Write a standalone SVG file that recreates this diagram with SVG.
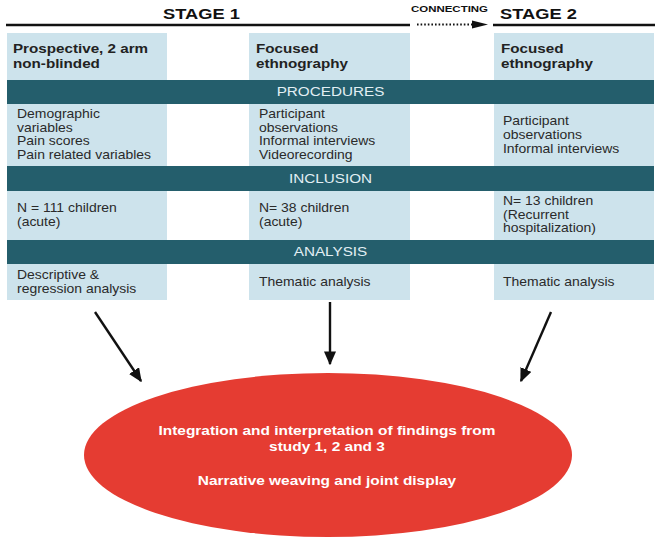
<svg xmlns="http://www.w3.org/2000/svg" width="662" height="541" viewBox="0 0 662 541">
<style>
text { font-family: "Liberation Sans", Arial, Helvetica, sans-serif; transform-box: fill-box; }
.st { font-size: 15.5px; font-weight: bold; fill: #111; transform-origin: 0 50%; transform: scaleX(1.18); }
.cn { font-size: 9.8px; font-weight: bold; fill: #111; transform-origin: 0 50%; transform: scaleX(1.17); }
.hd { font-size: 13px; font-weight: bold; fill: #222; transform-origin: 0 50%; transform: scaleX(1.17); }
.bd { font-size: 12.4px; fill: #2a2a2a; transform-origin: 0 50%; transform: scaleX(1.125); }
.bar-t { font-size: 13.4px; fill: #e2eff4; text-anchor: middle; transform-origin: 50% 50%; transform: scaleX(1.14); }
.el-t { font-size: 13.2px; font-weight: bold; fill: #ffffff; text-anchor: middle; transform-origin: 50% 50%; transform: scaleX(1.17); }
.cell { fill: #cde3ec; }
.bar { fill: #245e6c; }
.rule { stroke: #111; stroke-width: 2.5; }
.conn { stroke: #111; stroke-width: 2.4; fill: none; }
</style>
<defs>
<marker id="ah" viewBox="0 0 10 10" refX="9" refY="5" markerWidth="5.8" markerHeight="5" markerUnits="strokeWidth" orient="auto" preserveAspectRatio="none">
<path d="M0,0 L10,5 L0,10 Z" fill="#111"/>
</marker>
</defs>

<g id="header">
<line class="rule" x1="6" y1="25" x2="410" y2="25"/>
<text class="st" x="163" y="19">STAGE 1</text>
<text class="cn" x="411" y="12">CONNECTING</text>
<line x1="417" y1="24.5" x2="474" y2="24.5" stroke="#111" stroke-width="2" stroke-dasharray="1.6 2"/>
<polygon points="472,20.5 488,24.5 472,28.5" fill="#111"/>
<text class="st" x="500" y="19">STAGE 2</text>
<line class="rule" x1="493" y1="25" x2="655" y2="25"/>
</g>

<g id="design-1">
<rect class="cell" x="7" y="33" width="160" height="47"/>
<text class="hd" x="13" y="53">Prospective, 2 arm</text>
<text class="hd" x="13" y="68">non-blinded</text>
</g>
<g id="design-2">
<rect class="cell" x="249" y="33" width="161" height="47"/>
<text class="hd" x="256" y="53">Focused</text>
<text class="hd" x="256" y="68">ethnography</text>
</g>
<g id="design-3">
<rect class="cell" x="494" y="33" width="160" height="47"/>
<text class="hd" x="501" y="53">Focused</text>
<text class="hd" x="501" y="68">ethnography</text>
</g>

<g id="procedures-bar">
<rect class="bar" x="7" y="80" width="647" height="24"/>
<text class="bar-t" x="330.5" y="96.5">PROCEDURES</text>
</g>

<g id="procedures-1">
<rect class="cell" x="7" y="104" width="160" height="62"/>
<text class="bd" x="17" y="118">Demographic</text>
<text class="bd" x="17" y="131.7">variables</text>
<text class="bd" x="17" y="145.4">Pain scores</text>
<text class="bd" x="17" y="159.1">Pain related variables</text>
</g>
<g id="procedures-2">
<rect class="cell" x="249" y="104" width="161" height="62"/>
<text class="bd" x="259" y="118">Participant</text>
<text class="bd" x="259" y="131.7">observations</text>
<text class="bd" x="259" y="145.4">Informal interviews</text>
<text class="bd" x="259" y="159.1">Videorecording</text>
</g>
<g id="procedures-3">
<rect class="cell" x="494" y="104" width="160" height="62"/>
<text class="bd" x="503" y="125.5">Participant</text>
<text class="bd" x="503" y="139.2">observations</text>
<text class="bd" x="503" y="152.9">Informal interviews</text>
</g>

<g id="inclusion-bar">
<rect class="bar" x="7" y="166" width="647" height="25"/>
<text class="bar-t" x="330.5" y="183">INCLUSION</text>
</g>

<g id="inclusion-1">
<rect class="cell" x="7" y="191" width="160" height="49"/>
<text class="bd" x="17" y="212">N = 111 children</text>
<text class="bd" x="17" y="226">(acute)</text>
</g>
<g id="inclusion-2">
<rect class="cell" x="249" y="191" width="161" height="49"/>
<text class="bd" x="259" y="212">N= 38 children</text>
<text class="bd" x="259" y="226">(acute)</text>
</g>
<g id="inclusion-3">
<rect class="cell" x="494" y="191" width="160" height="49"/>
<text class="bd" x="503" y="205">N= 13 children</text>
<text class="bd" x="503" y="218.7">(Recurrent</text>
<text class="bd" x="503" y="232.4">hospitalization)</text>
</g>

<g id="analysis-bar">
<rect class="bar" x="7" y="240" width="647" height="24"/>
<text class="bar-t" x="330.5" y="256.5">ANALYSIS</text>
</g>

<g id="analysis-1">
<rect class="cell" x="7" y="264" width="160" height="36"/>
<text class="bd" x="17" y="279">Descriptive &amp;</text>
<text class="bd" x="17" y="293">regression analysis</text>
</g>
<g id="analysis-2">
<rect class="cell" x="249" y="264" width="161" height="36"/>
<text class="bd" x="259" y="286">Thematic analysis</text>
</g>
<g id="analysis-3">
<rect class="cell" x="494" y="264" width="160" height="36"/>
<text class="bd" x="503" y="286">Thematic analysis</text>
</g>

<g id="connectors">
<line class="conn" x1="95" y1="312" x2="141" y2="381" marker-end="url(#ah)"/>
<line class="conn" x1="330" y1="302" x2="330" y2="364" marker-end="url(#ah)"/>
<line class="conn" x1="551" y1="312" x2="521" y2="381" marker-end="url(#ah)"/>
</g>

<g id="integration">
<ellipse cx="328" cy="455" rx="244" ry="82" fill="#e53c32"/>
<text class="el-t" x="327" y="435">Integration and interpretation of findings from</text>
<text class="el-t" x="327" y="451">study 1, 2 and 3</text>
<text class="el-t" x="327" y="485">Narrative weaving and joint display</text>
</g>
</svg>
